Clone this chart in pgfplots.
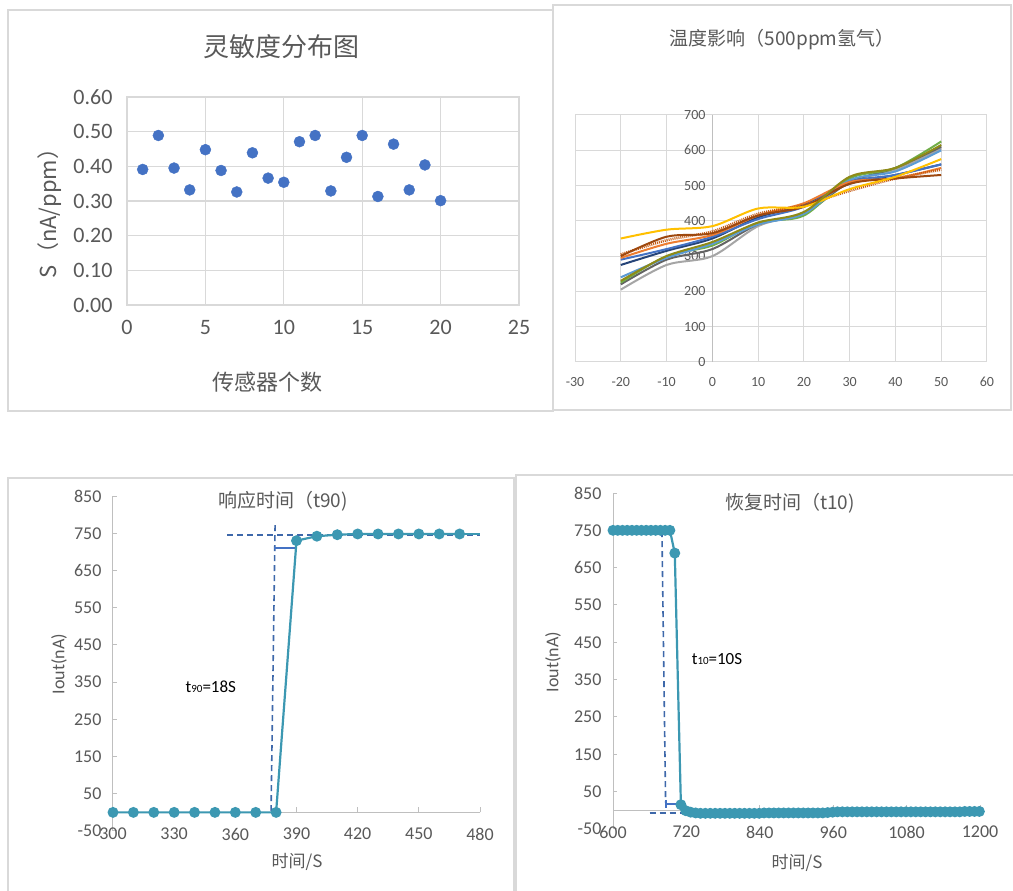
\documentclass[border=0pt]{standalone}
\usepackage{pgfplots}
\pgfplotsset{compat=1.18}
\usepackage{fontspec}
\setmainfont{Carlito}
\newfontfamily\cjk{Noto Sans CJK SC}

\definecolor{gridc}{HTML}{D9D9D9}
\definecolor{axc}{HTML}{BFBFBF}
\definecolor{txt}{HTML}{595959}
\definecolor{dotc}{HTML}{4472C4}
\definecolor{tealc}{HTML}{3C98B2}
\definecolor{dashc}{HTML}{3E68AA}
\definecolor{c1}{HTML}{4472C4}
\definecolor{c2}{HTML}{ED7D31}
\definecolor{c3}{HTML}{A5A5A5}
\definecolor{c4}{HTML}{FFC000}
\definecolor{c5}{HTML}{5B9BD5}
\definecolor{c6}{HTML}{70AD47}
\definecolor{c7}{HTML}{264478}
\definecolor{c8}{HTML}{9E480E}
\definecolor{c9}{HTML}{636363}
\definecolor{c10}{HTML}{8F8A17}
\definecolor{c11}{HTML}{C55A11}

\pgfplotsset{
  panel/.style={anchor=south west, scale only axis,
    /pgf/number format/assume math mode=true,
    /pgf/number format/set thousands separator={}},
  resp/.style={panel,
    axis x line*=bottom, axis y line*=left,
    x axis line style={draw=none}, y axis line style={axc, line width=1pt},
    xtick style={draw=none}, ytick style={axc, line width=1pt},
    tick align=inside, major tick length=4pt,
    tick label style={font=\fontsize{18}{21}\selectfont, text=txt},
    yticklabel style={xshift=-8pt},
    xticklabel style={anchor=center, yshift=-3pt},
    clip=false},
  dline/.style={dashc, line width=1.6pt, dash pattern=on 6pt off 4pt},
  sline/.style={tealc, line width=2.2pt},
}

\begin{document}
\begin{tikzpicture}
\fill[white] (0pt,0pt) rectangle (1013pt,891pt);
\useasboundingbox (0pt,0pt) rectangle (1013pt,891pt);

% panel frames
\draw[gridc, line width=1.2pt] (8pt,480pt) rectangle (553pt,881pt);
\draw[gridc, line width=1.2pt] (553pt,481pt) rectangle (1011pt,886pt);
\draw[gridc, line width=1.2pt] (8pt,0pt) -- (8pt,413pt) -- (514pt,413pt) -- (514pt,0pt);
\draw[gridc, line width=1.2pt] (516pt,0pt) -- (516pt,416pt) -- (1013pt,416pt);

% ---- sensitivity scatter
\begin{axis}[panel, at={(127pt,586pt)}, width=392pt, height=208pt,
  xmin=0, xmax=25, ymin=0, ymax=0.6,
  xtick={0,5,10,15,20,25}, ytick={0,0.1,0.2,0.3,0.4,0.5,0.6},
  grid=major, major grid style={gridc, line width=1.2pt},
  axis line style={gridc, line width=1.2pt},
  major tick length=0pt,
  tick label style={font=\fontsize{22}{26}\selectfont, text=txt},
  yticklabel style={/pgf/number format/fixed, /pgf/number format/fixed zerofill,
    /pgf/number format/precision=2, xshift=-11pt},
  xticklabel style={yshift=-12pt},
  clip=false]
\addplot[only marks, mark=*, mark size=5.5pt, dotc] coordinates {
  (1,0.391) (2,0.489) (3,0.395) (4,0.332) (5,0.448)
  (6,0.388) (7,0.326) (8,0.439) (9,0.366) (10,0.354)
  (11,0.471) (12,0.489) (13,0.329) (14,0.426) (15,0.489)
  (16,0.313) (17,0.464) (18,0.332) (19,0.404) (20,0.301)
};
\end{axis}
\node[font=\cjk\fontsize{26}{30}\selectfont, text=txt] at (281pt,844pt) {灵敏度分布图};
\node[font=\cjk\fontsize{22}{26}\selectfont, text=txt] at (267pt,509pt) {传感器个数};
\node[font=\cjk\fontsize{22}{26}\selectfont, text=txt, rotate=90] at (50pt,683pt) {S（nA/ppm）};

% ---- temperature influence
\begin{axis}[panel, at={(575pt,529pt)}, width=412pt, height=247pt,
  xmin=-30, xmax=60, ymin=0, ymax=700,
  xtick={-30,-20,...,60}, ytick={0,100,...,700},
  grid=major, major grid style={gridc, line width=1pt},
  axis line style={gridc, line width=1pt},
  major tick length=0pt,
  tick label style={font=\fontsize{14}{16}\selectfont, text=txt},
  yticklabel style={xshift=134pt},
  xticklabel style={yshift=-12pt},
  extra x ticks={0}, extra x tick labels={},
  extra x tick style={major grid style={axc, line width=1pt}},
  every axis plot/.append style={smooth, no marks, line width=2pt}]
\addplot[c3] coordinates {(-20,205) (-10,275) (0,300) (10,385) (20,425) (30,510) (40,545) (50,605)};
\addplot[c9] coordinates {(-20,220) (-10,290) (0,320) (10,390) (20,420) (30,510) (40,550) (50,610)};
\addplot[c6] coordinates {(-20,225) (-10,300) (0,330) (10,395) (20,415) (30,520) (40,550) (50,625)};
\addplot[c5] coordinates {(-20,240) (-10,295) (0,335) (10,390) (20,420) (30,515) (40,540) (50,600)};
\addplot[c7] coordinates {(-20,275) (-10,315) (0,350) (10,410) (20,445) (30,505) (40,530) (50,560)};
\addplot[c1] coordinates {(-20,290) (-10,320) (0,355) (10,405) (20,440) (30,510) (40,530) (50,560)};
\addplot[c2] coordinates {(-20,295) (-10,335) (0,360) (10,415) (20,450) (30,510) (40,520) (50,550)};
\addplot[c11, line width=2.5pt, dash pattern=on 1pt off 1pt] coordinates {(-20,305) (-10,345) (0,370) (10,420) (20,445) (30,485) (40,520) (50,545)};
\addplot[c8] coordinates {(-20,300) (-10,355) (0,365) (10,415) (20,440) (30,505) (40,520) (50,530)};
\addplot[c4] coordinates {(-20,350) (-10,375) (0,385) (10,435) (20,440) (30,490) (40,525) (50,575)};
\addplot[c10] coordinates {(-20,230) (-10,300) (0,340) (10,395) (20,425) (30,525) (40,550) (50,615)};
\end{axis}
\node[font=\cjk\fontsize{19}{22}\selectfont, text=txt] at (782pt,851pt) {温度影响（500ppm氢气）};

% ---- response time
\begin{axis}[resp, at={(113pt,60pt)}, width=367pt, height=335pt,
  xmin=300, xmax=480, ymin=-50, ymax=850,
  xtick={300,330,...,480}, ytick={-50,50,...,850}]
\draw[axc, line width=1pt] (axis cs:300,0) -- (axis cs:480,0);
\pgfplotsinvokeforeach{330,360,...,480}{\draw[axc, line width=1pt] (axis cs:#1,0) -- ++(0pt,5pt);}
\addplot[dline] coordinates {(356,745) (480,745)};
\addplot[dline] coordinates {(379.5,772) (377.5,-5)};
\addplot[c1, line width=1.8pt] coordinates {(379,711) (390,711)};
\addplot[sline] coordinates {(470,748) (480,748)};
\addplot[sline, mark=*, mark size=4.3pt] coordinates {
  (300,0) (310,0) (320,0) (330,0) (340,0) (350,0) (360,0) (370,0) (380,0)
  (390,730) (400,742) (410,746) (420,748) (430,748) (440,748) (450,748) (460,748) (470,748)
};
\node[font=\fontsize{17}{19}\selectfont, black] at (axis cs:348,337) {t{\fontsize{11}{11}\selectfont 90}=18S};
\end{axis}
\node[font=\cjk\fontsize{19}{22}\selectfont, text=txt] at (283pt,390pt) {响应时间（t90)};
\node[font=\fontsize{18}{20}\selectfont, text=txt, rotate=90] at (59pt,227pt) {Iout(nA)};
\node[font=\cjk\fontsize{17}{20}\selectfont, text=txt] at (297pt,29pt) {时间/S};

% ---- recovery time
\begin{axis}[resp, at={(613pt,62pt)}, width=367pt, height=336pt,
  xmin=600, xmax=1200, ymin=-50, ymax=850,
  xtick={600,720,...,1200}, ytick={-50,50,...,850}]
\draw[axc, line width=1pt] (axis cs:600,0) -- (axis cs:1200,0);
\pgfplotsinvokeforeach{720,840,960,1080,1200}{\draw[axc, line width=1pt] (axis cs:#1,0) -- ++(0pt,5pt);}
\addplot[dline] coordinates {(680,748) (686,20)};
\addplot[dline] coordinates {(660,-7) (760,-7)};
\addplot[c1, line width=1.8pt, mark=|, mark size=4pt, mark indices={1}] coordinates {(686,17) (712,17)};
\addplot[sline, mark=*, mark size=4.3pt] coordinates {
  (600,750) (607.75,750) (615.5,750) (623.25,750) (631,750) (638.75,750) (646.5,750)
  (654.25,750) (662,750) (669.75,750) (677.5,750) (685.25,750) (693,750)
  (701,689) (711,15) (719,-1)
  (727,-5) (735,-7) (743,-8) (751,-8) (759,-8) (767,-8) (775,-8) (783,-8)
  (791,-8) (799,-8) (807,-8) (815,-8) (823,-8) (831,-8) (839,-8) (847,-7)
  (855,-7) (863,-7) (871,-7) (879,-7) (887,-7) (895,-7) (903,-7) (911,-7)
  (919,-7) (927,-7) (935,-7) (943,-7) (951,-6) (959,-5) (967,-4) (975,-4)
  (983,-4) (991,-4) (999,-4) (1007,-4) (1015,-4) (1023,-4) (1031,-4) (1039,-4)
  (1047,-4) (1055,-4) (1063,-4) (1071,-4) (1079,-4) (1087,-4) (1095,-4) (1103,-4)
  (1111,-4) (1119,-4) (1127,-4) (1135,-4) (1143,-4) (1151,-4) (1159,-4) (1167,-4)
  (1175,-3) (1183,-3) (1191,-3) (1199,-3)
};
\node[font=\fontsize{17}{19}\selectfont, black] at (axis cs:770,405) {t{\fontsize{11}{11}\selectfont 10}=10S};
\end{axis}
\node[font=\cjk\fontsize{19}{22}\selectfont, text=txt] at (790pt,388pt) {恢复时间（t10)};
\node[font=\fontsize{18}{20}\selectfont, text=txt, rotate=90] at (553pt,229pt) {Iout(nA)};
\node[font=\cjk\fontsize{17}{20}\selectfont, text=txt] at (797pt,28pt) {时间/S};
\end{tikzpicture}
\end{document}
